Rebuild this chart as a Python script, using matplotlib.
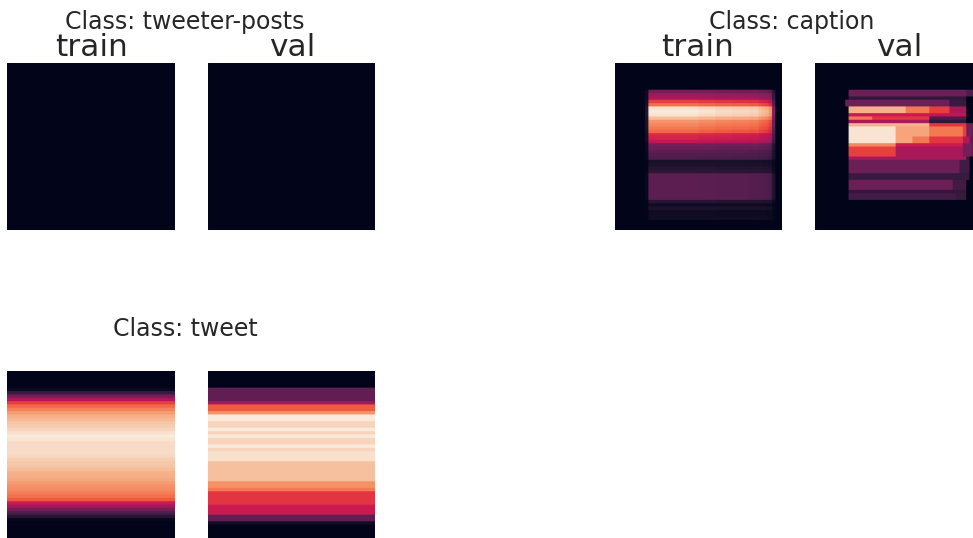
import numpy as np
import seaborn as sns
from matplotlib import pyplot as plt

W, H = 973, 538
N = 50

tweet_train = [0, 0, 0, 0, 0, .03, .15, .3, .45, .6, .68, .74, .8, .84, .87, .9, .92, .94, .97, 1,
               .98, .96, .96, .96, .96, .95, .92, .91, .9, .88, .85, .84, .83, .8, .77, .76, .73, .7, .65, .5,
               .4, .3, .2, .1, .02, 0, 0, 0, 0, 0]
tweet_val = [0, 0, 0, 0, 0, .25, .25, .25, .25, .4, .66, .66, .78, 1, 1, .94, .94, 1, .94, 1,
             .94, .94, 1, .94, .97, .97, .97, .89, .89, .89, .89, .89, .89, .77, .77, .72, .58, .58, .58, .58,
             .5, .5, .5, .25, .25, .05, 0, 0, 0, 0]

caption_train_rows = [0, 0, 0, 0, 0, 0, 0, 0, .3, .4, .42, .6, .7, .97, 1, .98, .88, .78, .75, .72,
                      .68, .55, .53, .48, .3, .28, .24, .22, .2, .07, .08, .1, .12, .24, .24, .24, .24, .24, .24, .24,
                      .24, .1, .04, .08, .04, .04, .05, 0, 0, 0]
caption_train_cols = [0, 0, 0, 0, 0, 0, 0, 0, 0, .1, 1, 1, 1, 1, 1, 1, 1, 1, 1, 1,
                      1, 1, 1, 1, 1, .98, .98, .98, .98, .98, .96, .96, .96, .96, .96, .95, .95, .95, .95, .95,
                      .94, .94, .94, .9, .88, .86, .8, .35, 0, 0]

# row start, row end, then (col start, col end, value)
caption_val_bands = [
    (8, 10, [(10, 45, .28), (45, 48, .2)]),
    (10, 11, [(10, 45, .13)]),
    (11, 13, [(9, 40, .28), (40, 45, .15)]),
    (13, 15, [(10, 27, .85), (27, 34, .72), (34, 40, .6), (40, 45, .42)]),
    (15, 16, [(10, 34, .5), (34, 45, .48)]),
    (16, 17, [(10, 17, .72), (17, 34, .58), (34, 45, .2)]),
    (17, 18, [(10, 34, .42), (34, 45, .13)]),
    (18, 19, [(10, 34, .85), (34, 45, .58), (45, 47, .3)]),
    (19, 22, [(10, 24, .98), (24, 34, .82), (34, 44, .72), (44, 45, .6), (45, 47, .3)]),
    (22, 24, [(10, 24, .98), (24, 29, .82), (29, 34, .72), (34, 44, .58), (44, 46, .45), (46, 47, .25)]),
    (24, 25, [(10, 24, .75), (24, 44, .5), (44, 47, .3)]),
    (25, 28, [(10, 24, .6), (24, 44, .42), (44, 47, .3)]),
    (28, 29, [(10, 45, .42), (45, 46, .15)]),
    (29, 33, [(10, 43, .28), (43, 46, .17)]),
    (33, 35, [(10, 46, .15)]),
    (35, 38, [(10, 41, .28), (41, 45, .17)]),
    (38, 39, [(10, 45, .14)]),
    (39, 41, [(10, 42, .18), (42, 45, .15)]),
]

panel_left = [7, 208, 615, 815]
panel_top = [63, 371]
panel_size = 167

class_titles = ['Class: tweeter-posts', 'Class: caption', 'Class: tweet']
title_pos = [(185, 22), (792, 22), (185, 329)]
head_pos = [(91, 47), (292, 47), (698, 47), (899, 47)]
head_labels = ['train', 'val', 'train', 'val']


def rows_to_img(rows):
    return np.tile(np.array(rows).reshape(-1, 1), (1, N))


def bands_to_img(bands):
    img = np.zeros((N, N))
    for r0, r1, segs in bands:
        for c0, c1, v in segs:
            img[r0:r1, c0:c1] = v
    return img


def show(fig, left, top, img):
    ax = fig.add_axes([left / W, 1 - (top + panel_size) / H, panel_size / W, panel_size / H])
    # repeat the cells so bilinear only softens the edges a little
    big = np.repeat(np.repeat(img, 3, axis=0), 3, axis=1)
    ax.imshow(big, cmap=cmap, vmin=0, vmax=1, aspect='auto', interpolation='bilinear')
    ax.set_xticks([])
    ax.set_yticks([])
    for s in ax.spines.values():
        s.set_visible(False)


cmap = sns.color_palette('rocket', as_cmap=True)
fig = plt.figure(figsize=(W / 100, H / 100), dpi=100)

blank = np.zeros((N, N))
show(fig, panel_left[0], panel_top[0], blank)
show(fig, panel_left[1], panel_top[0], blank)
show(fig, panel_left[2], panel_top[0], np.outer(caption_train_rows, caption_train_cols))
show(fig, panel_left[3], panel_top[0], bands_to_img(caption_val_bands))
show(fig, panel_left[0], panel_top[1], rows_to_img(tweet_train))
show(fig, panel_left[1], panel_top[1], rows_to_img(tweet_val))

for t, (x, y) in zip(class_titles, title_pos):
    fig.text(x / W, 1 - y / H, t, fontsize=17, color='#262626', ha='center', va='center')
for t, (x, y) in zip(head_labels, head_pos):
    fig.text(x / W, 1 - y / H, t, fontsize=22.5, color='#262626', ha='center', va='center')

fig.savefig('out.png', dpi=100)
